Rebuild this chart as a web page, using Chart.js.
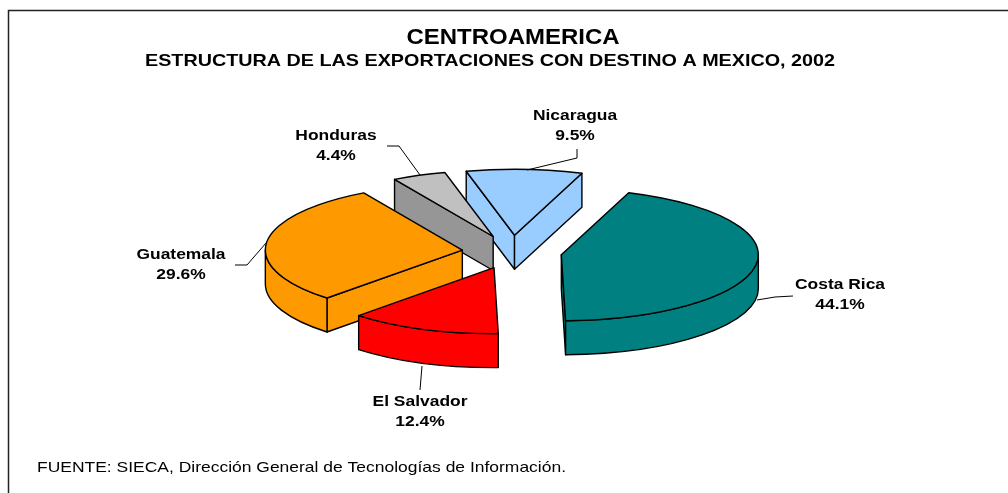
<!DOCTYPE html>
<html><head><meta charset="utf-8">
<style>html,body{margin:0;padding:0;background:#fff}canvas{display:block}</style>
<script src="https://cdn.jsdelivr.net/npm/chart.js@4"></script>
</head><body><canvas id="c" width="1008" height="493"></canvas>
<script>
const categories = ["Costa Rica","El Salvador","Guatemala","Honduras","Nicaragua"];
const shares = [44.1,12.4,29.6,4.4,9.5];
const topColours = ["#008080","#FF0000","#FF9900","#C0C0C0","#99CCFF"];
const wallColours = ["#008080","#FF0000","#FF9900","#969696","#99CCFF"];
const paintOrder = [4,3,0,2,1];
const titleText = "CENTROAMERICA";
const subtitleText = "ESTRUCTURA DE LAS EXPORTACIONES CON DESTINO A MEXICO, 2002";
const sourceText = "FUENTE: SIECA, Dirección General de Tecnologías de Información.";
const labelAnchors = [[840,285],[420,402],[181,255],[336,136],[575,116]];
const leaders = [
  [[793,296],[775,297],[757,300]],
  [[422,366],[420,390]],
  [[235,265],[247,265],[266,243]],
  [[387,146],[399,146],[420,175]],
  [[577,149],[577,158],[527,170]]
];
const view = {cx:512, cy:252, rx:197, ry:66, depth:34, explode:50};

function stretched(ctx,text,x,y,font,width,align){
  ctx.font=font;
  const w=ctx.measureText(text).width, s=width/w;
  ctx.save();ctx.translate(x,y);ctx.scale(s,1);ctx.textAlign=align;ctx.fillText(text,0,0);ctx.restore();
}

const pie3d = {
  id:'pie3d',
  beforeDatasetsDraw(chart){
    const ctx = chart.ctx, arcs = chart.getDatasetMeta(0).data;
    ctx.save();
    ctx.lineWidth = 1.4; ctx.strokeStyle = '#000'; ctx.lineJoin = 'round';
    for(const i of paintOrder){
      const a0 = arcs[i].startAngle, a1 = arcs[i].endAngle, mid = (a0+a1)/2;
      const ox = view.cx + Math.cos(mid)*view.explode;
      const oy = view.cy + Math.sin(mid)*view.explode*view.ry/view.rx;
      const pt = (a,dz=0)=>[ox+view.rx*Math.cos(a), oy+view.ry*Math.sin(a)+dz];
      const poly = (pts)=>{ctx.beginPath();pts.forEach((p,k)=>k?ctx.lineTo(p[0],p[1]):ctx.moveTo(p[0],p[1]));ctx.closePath();ctx.fillStyle=wallColours[i];ctx.fill();ctx.stroke();};
      // radial walls that face the viewer
      if(-Math.cos(a0)>0) poly([[ox,oy],pt(a0),pt(a0,view.depth),[ox,oy+view.depth]]);
      if(Math.cos(a1)>0) poly([[ox,oy],pt(a1),pt(a1,view.depth),[ox,oy+view.depth]]);
      // visible part of the rim (screen-lower half of the ellipse)
      for(const k of [0,2]){
        const lo = Math.max(a0,k*Math.PI), hi = Math.min(a1,k*Math.PI+Math.PI);
        if(hi>lo){
          ctx.beginPath();
          ctx.ellipse(ox,oy,view.rx,view.ry,0,lo,hi);
          ctx.ellipse(ox,oy+view.depth,view.rx,view.ry,0,hi,lo,true);
          ctx.closePath();ctx.fillStyle=wallColours[i];ctx.fill();ctx.stroke();
        }
      }
      // top face
      ctx.beginPath();ctx.moveTo(ox,oy);
      ctx.ellipse(ox,oy,view.rx,view.ry,0,a0,a1);
      ctx.closePath();ctx.fillStyle=topColours[i];ctx.fill();ctx.stroke();
    }
    ctx.restore();
    return false;
  },
  afterDraw(chart){
    const ctx = chart.ctx;
    ctx.save();
    ctx.strokeStyle='#222';ctx.lineWidth=1.5;
    ctx.beginPath();ctx.moveTo(8.5,493);ctx.lineTo(8.5,10.5);ctx.lineTo(1008,10.5);ctx.stroke();
    ctx.strokeStyle='#000';ctx.lineWidth=1;
    leaders.forEach(l=>{ctx.beginPath();l.forEach((p,k)=>k?ctx.lineTo(p[0],p[1]):ctx.moveTo(p[0],p[1]));ctx.stroke();});
    ctx.fillStyle='#000';ctx.textBaseline='middle';
    stretched(ctx,titleText,513,37.5,'bold 22.5px "Liberation Sans"',213,'center');
    stretched(ctx,subtitleText,490,61,'bold 16.5px "Liberation Sans"',690,'center');
    const f='bold 15px "Liberation Sans"';
    categories.forEach((c,i)=>{
      const [x,y]=labelAnchors[i];
      const pct=shares[i].toFixed(1)+'%';
      ctx.font='bold 13.3px "Liberation Sans"';
      const w1=ctx.measureText(c).width*1.31, w2=ctx.measureText(pct).width*1.31;
      stretched(ctx,c,x,y,f,w1,'center');
      stretched(ctx,pct,x,y+19.5,f,w2,'center');
    });
    stretched(ctx,sourceText,37,468,'15px "Liberation Sans"',529,'left');
    ctx.restore();
  }
};

new Chart(document.getElementById('c'),{
  type:'pie',
  data:{labels:categories,datasets:[{data:shares,backgroundColor:topColours,borderColor:'#000',borderWidth:1}]},
  options:{
    responsive:false,animation:false,rotation:20,
    plugins:{legend:{display:false},tooltip:{enabled:false},title:{display:false}}
  },
  plugins:[pie3d]
});
</script></body></html>
